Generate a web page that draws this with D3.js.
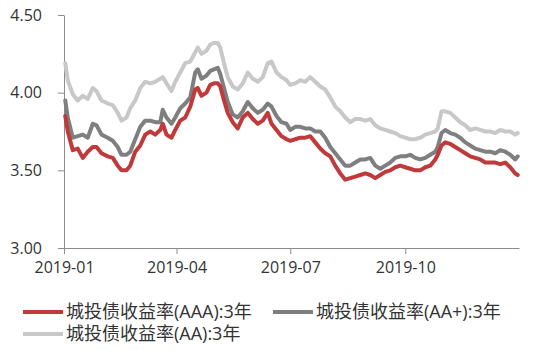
<!DOCTYPE html>
<html>
<head>
<meta charset="utf-8">
<script src="https://cdn.jsdelivr.net/npm/d3@7"></script>
<style>
  html, body { margin: 0; padding: 0; background: #fff; }
  svg { display: block; }
</style>
</head>
<body>
<svg id="chart" width="547" height="350"></svg>
<script>
// Trading dates (2019) for the 3-year urban investment bond yield series
const dates = [
  "2019-01-02","2019-01-04","2019-01-08","2019-01-12","2019-01-16","2019-01-20","2019-01-24","2019-01-27","2019-01-31",
  "2019-02-05","2019-02-09","2019-02-13","2019-02-16","2019-02-20","2019-02-23","2019-02-27",
  "2019-03-03","2019-03-07","2019-03-11","2019-03-15","2019-03-19","2019-03-21","2019-03-24","2019-03-28","2019-03-31",
  "2019-04-04","2019-04-08","2019-04-12","2019-04-16","2019-04-18","2019-04-21","2019-04-25","2019-04-28",
  "2019-05-01","2019-05-04","2019-05-06","2019-05-09","2019-05-12","2019-05-16","2019-05-20","2019-05-24","2019-05-28",
  "2019-06-01","2019-06-05","2019-06-09","2019-06-13","2019-06-16","2019-06-20","2019-06-24","2019-06-28",
  "2019-07-01","2019-07-05","2019-07-09","2019-07-13","2019-07-17","2019-07-21","2019-07-25","2019-07-29",
  "2019-08-02","2019-08-06","2019-08-10","2019-08-14","2019-08-18","2019-08-22","2019-08-26","2019-08-30",
  "2019-09-03","2019-09-07","2019-09-11","2019-09-15","2019-09-19","2019-09-23","2019-09-27",
  "2019-10-01","2019-10-05","2019-10-09","2019-10-13","2019-10-17","2019-10-21","2019-10-25","2019-10-27","2019-10-30",
  "2019-11-02","2019-11-06","2019-11-10","2019-11-14","2019-11-18","2019-11-22","2019-11-26","2019-11-30",
  "2019-12-04","2019-12-08","2019-12-12","2019-12-16","2019-12-20","2019-12-24","2019-12-28","2019-12-30"
];

// 城投债收益率(AAA):3年
const yieldAAA = [
  3.85,3.75,3.63,3.64,3.58,3.62,3.65,3.65,3.61,
  3.59,3.58,3.53,3.50,3.50,3.53,3.62,
  3.66,3.73,3.75,3.73,3.76,3.80,3.73,3.71,3.76,
  3.82,3.84,3.91,4.02,4.03,3.98,4.00,4.05,
  4.06,4.06,4.04,3.95,3.87,3.81,3.77,3.84,3.87,
  3.83,3.80,3.82,3.87,3.80,3.76,3.72,3.70,
  3.69,3.70,3.71,3.71,3.72,3.68,3.64,3.61,
  3.59,3.53,3.48,3.44,3.45,3.46,3.47,3.48,
  3.47,3.45,3.47,3.49,3.50,3.52,3.53,
  3.52,3.51,3.50,3.50,3.52,3.53,3.57,3.60,3.66,
  3.68,3.67,3.65,3.63,3.61,3.59,3.58,3.57,
  3.55,3.55,3.55,3.54,3.55,3.52,3.48,3.47
];

// 城投债收益率(AA+):3年
const yieldAAplus = [
  3.95,3.84,3.71,3.72,3.73,3.71,3.80,3.79,3.73,
  3.71,3.69,3.65,3.60,3.60,3.62,3.70,
  3.78,3.82,3.82,3.81,3.81,3.89,3.84,3.80,3.84,
  3.90,3.93,3.97,4.13,4.15,4.09,4.11,4.14,
  4.15,4.16,4.12,4.03,3.94,3.86,3.84,3.88,3.94,
  3.90,3.87,3.89,3.93,3.91,3.85,3.81,3.80,
  3.76,3.78,3.78,3.77,3.77,3.75,3.75,3.71,
  3.65,3.61,3.57,3.53,3.53,3.55,3.57,3.57,
  3.58,3.53,3.51,3.53,3.55,3.58,3.59,
  3.59,3.60,3.58,3.57,3.58,3.60,3.62,3.65,3.74,
  3.76,3.74,3.73,3.71,3.68,3.66,3.64,3.63,
  3.62,3.62,3.61,3.63,3.62,3.60,3.57,3.59
];

// 城投债收益率(AA):3年
const yieldAA = [
  4.19,4.08,3.99,3.95,3.98,3.96,4.03,4.01,3.95,
  3.93,3.92,3.87,3.82,3.84,3.90,3.95,
  4.03,4.07,4.06,4.07,4.09,4.10,4.06,4.01,4.07,
  4.13,4.19,4.20,4.26,4.29,4.25,4.27,4.31,
  4.32,4.32,4.29,4.19,4.10,4.04,4.02,4.06,4.13,
  4.09,4.07,4.10,4.19,4.20,4.13,4.10,4.08,
  4.05,4.06,4.08,4.07,4.10,4.07,4.04,4.02,
  3.97,3.91,3.88,3.84,3.81,3.83,3.83,3.82,
  3.83,3.79,3.77,3.76,3.75,3.74,3.72,
  3.71,3.70,3.70,3.71,3.73,3.74,3.75,3.77,3.88,
  3.88,3.87,3.84,3.81,3.79,3.76,3.77,3.76,
  3.75,3.75,3.74,3.76,3.75,3.75,3.73,3.74
];

const yTicks = [3.00, 3.50, 4.00, 4.50];
const xTicks = ["2019-01-01","2019-04-01","2019-07-01","2019-10-01"];

const seriesNames = ["城投债收益率(AAA):3年", "城投债收益率(AA+):3年", "城投债收益率(AA):3年"];
const seriesColors = ["#c0393b", "#7f7f7f", "#c8c8c8"];
const seriesValues = [yieldAAA, yieldAAplus, yieldAA];

const parse = d3.timeParse("%Y-%m-%d");
const svg = d3.select("#chart");
const font = "'Open Sans', 'Noto Sans CJK SC', sans-serif";

const x = d3.scaleTime()
  .domain([parse("2019-01-01"), parse("2019-12-31")])
  .range([64, 519]);
const y = d3.scaleLinear()
  .domain([3.0, 4.5])
  .range([248, 15]);

// Axes
const xAxis = svg.append("g")
  .attr("transform", "translate(0,248)")
  .call(d3.axisBottom(x)
    .tickValues(xTicks.map(parse))
    .tickFormat(d3.timeFormat("%Y-%m"))
    .tickSize(6).tickSizeOuter(0).tickPadding(8));

const yAxis = svg.append("g")
  .attr("transform", "translate(64,0)")
  .call(d3.axisLeft(y)
    .tickValues(yTicks)
    .tickFormat(d3.format(".2f"))
    .tickSize(6).tickSizeOuter(0).tickPadding(16));

[xAxis, yAxis].forEach(g => {
  g.select(".domain").attr("stroke", "#8c8c8c").attr("stroke-width", 1);
  g.selectAll(".tick line").attr("stroke", "#8c8c8c");
  g.selectAll(".tick text")
    .attr("fill", "#333")
    .style("font-family", font)
    .style("font-size", "16px");
});

// Yield lines (lightest first so the darker ones sit on top)
const line = d3.line()
  .x((d, i) => x(parse(dates[i])))
  .y(d => y(d));

[2, 1, 0].forEach(k => {
  svg.append("path")
    .datum(seriesValues[k])
    .attr("fill", "none")
    .attr("stroke", seriesColors[k])
    .attr("stroke-width", 4)
    .attr("stroke-linejoin", "round")
    .attr("stroke-linecap", "round")
    .attr("d", line);
});

// Legend
const legendPos = [[23, 312], [273, 312], [23, 334]];
seriesNames.forEach((name, k) => {
  const g = svg.append("g").attr("transform", `translate(${legendPos[k][0]},${legendPos[k][1]})`);
  g.append("line")
    .attr("x1", 0).attr("x2", 40).attr("y1", 0).attr("y2", 0)
    .attr("stroke", seriesColors[k]).attr("stroke-width", 4);
  g.append("text")
    .attr("x", 43).attr("y", 0).attr("dy", "0.35em")
    .attr("fill", "#333")
    .style("font-family", font)
    .style("font-size", "18px")
    .text(name);
});
</script>
</body>
</html>
